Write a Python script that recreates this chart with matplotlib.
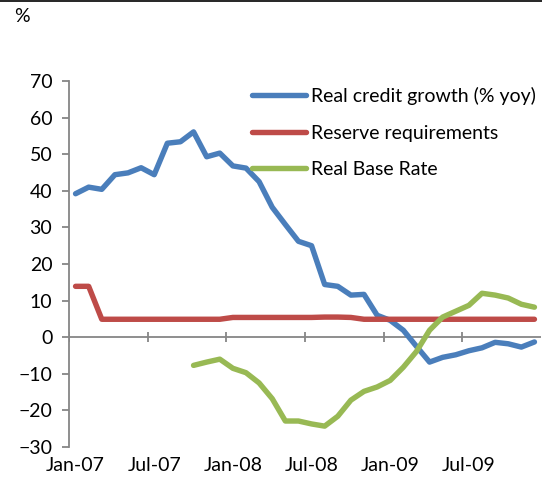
import numpy as np
import matplotlib
matplotlib.use("Agg")
import matplotlib.pyplot as plt
from matplotlib.lines import Line2D

plt.rcParams["font.family"] = ["Lato", "DejaVu Sans"]

# monthly, Jan-07 .. Dec-09
months = ["Jan-07", "Feb-07", "Mar-07", "Apr-07", "May-07", "Jun-07",
          "Jul-07", "Aug-07", "Sep-07", "Oct-07", "Nov-07", "Dec-07",
          "Jan-08", "Feb-08", "Mar-08", "Apr-08", "May-08", "Jun-08",
          "Jul-08", "Aug-08", "Sep-08", "Oct-08", "Nov-08", "Dec-08",
          "Jan-09", "Feb-09", "Mar-09", "Apr-09", "May-09", "Jun-09",
          "Jul-09", "Aug-09", "Sep-09", "Oct-09", "Nov-09", "Dec-09"]

credit_growth = [39.2, 41.0, 40.4, 44.4, 44.9, 46.3, 44.4, 53.0, 53.4, 56.1,
                 49.3, 50.3, 46.8, 46.2, 42.5, 35.5, 30.8, 26.2, 25.0, 14.4,
                 13.9, 11.5, 11.7, 6.0, 4.6, 1.9, -2.5, -6.8, -5.5, -4.8,
                 -3.7, -2.9, -1.4, -1.8, -2.7, -1.3]

reserve_req = [13.9, 13.9, 4.9, 4.9, 4.9, 4.9, 4.9, 4.9, 4.9, 4.9,
               4.9, 4.9, 5.4, 5.4, 5.4, 5.4, 5.4, 5.4, 5.4, 5.5,
               5.5, 5.4, 4.9, 4.9, 4.9, 4.9, 4.9, 4.9, 4.9, 4.9,
               4.9, 4.9, 4.9, 4.9, 4.9, 4.9]

nan = np.nan
real_base_rate = [nan, nan, nan, nan, nan, nan, nan, nan, nan, -7.7,
                  -6.8, -6.0, -8.5, -9.7, -12.5, -16.8, -22.9, -22.9, -23.7, -24.3,
                  -21.6, -17.2, -14.8, -13.6, -11.8, -8.2, -3.9, 1.9, 5.5, 7.1,
                  8.7, 12.0, 11.5, 10.7, 9.0, 8.2]

series = [
    ("Real credit growth (% yoy)", credit_growth, "#4A7EBB"),
    ("Reserve requirements", reserve_req, "#BE4B48"),
    ("Real Base Rate", real_base_rate, "#98B954"),
]

axis_color = "#868686"
fsize = 14

fig = plt.figure(figsize=(5.42, 4.88), dpi=100)
ax = fig.add_axes([69 / 542, 1 - 447 / 488, 472 / 542, 366 / 488])

x = np.arange(len(months))
for name, vals, color in series:
    ax.plot(x, vals, color=color, lw=3.9, solid_capstyle="round",
            solid_joinstyle="round", label=name)

ax.set_xlim(-0.5, len(months) - 0.5)
ax.set_ylim(-30, 70)
ax.set_yticks(range(-30, 71, 10))

# x axis drawn at zero, tick marks between categories
ax.axhline(0, color=axis_color, lw=1.3, zorder=1)
ax.vlines(np.arange(-0.5, len(months) - 1, 6), -1.4, 1.4, color=axis_color,
          lw=1.3, zorder=1)

ax.set_xticks(x[::6])
ax.set_xticklabels(months[::6])
ax.tick_params(axis="x", length=0, pad=7, labelsize=fsize)
ax.tick_params(axis="y", length=5, width=1.3, color=axis_color, pad=7,
               labelsize=fsize)

for side in ["top", "right", "bottom"]:
    ax.spines[side].set_visible(False)
ax.spines["left"].set_color(axis_color)
ax.spines["left"].set_linewidth(1.3)

ax.legend(loc="upper left", bbox_to_anchor=(252 / 542, 1 - 87 / 488),
          bbox_transform=fig.transFigure, frameon=False, fontsize=fsize,
          handlelength=2.8, handletextpad=0.25, labelspacing=1.0,
          borderpad=0, borderaxespad=0)

fig.text(14 / 542, 1 - 17 / 488, "%", fontsize=fsize, va="center", ha="left")
fig.add_artist(Line2D([0, 1], [1 - 1 / 488, 1 - 1 / 488], color="black",
                      lw=1.2, transform=fig.transFigure))

fig.savefig("out.png", dpi=100)
